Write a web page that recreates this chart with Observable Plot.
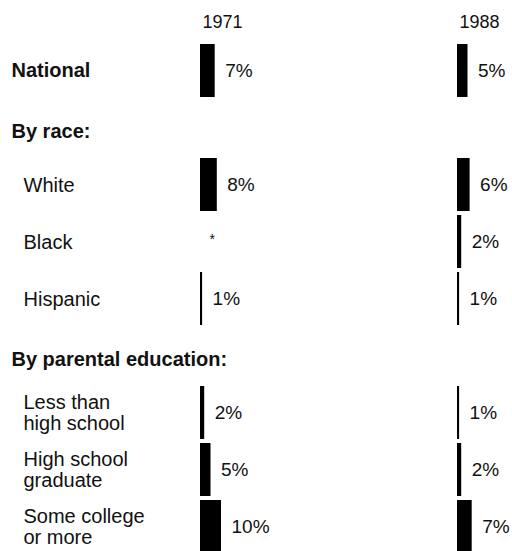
<!DOCTYPE html>
<html>
<head>
<meta charset="utf-8">
<script src="https://cdn.jsdelivr.net/npm/d3@7"></script>
<script src="https://cdn.jsdelivr.net/npm/@observablehq/plot@0.6"></script>
<style>
  html, body { margin: 0; padding: 0; background: #fff; }
  #chart svg { display: block; }
</style>
</head>
<body>
<div id="chart"></div>
<script>
// Data
const rows = ["National", "By race:", "White", "Black", "Hispanic", "By parental education:",
  "Less than\nhigh school", "High school\ngraduate", "Some college\nor more"];
const rowKinds = ["main", "header", "sub", "sub", "sub", "header", "sub", "sub", "sub"];
const years = ["1971", "1988"];
const values1971 = [7, null, 8, null, 1, null, 2, 5, 10];
const values1988 = [5, null, 6, 2, 1, null, 1, 2, 7];

const rowTable = rows.map((r, i) => ({row: r, kind: rowKinds[i]}));
const cells = [];
years.forEach((yr, j) => {
  const vals = j === 0 ? values1971 : values1988;
  rows.forEach((r, i) => {
    if (rowKinds[i] === "header") return;
    cells.push({year: yr, row: r, value: vals[i]});
  });
});
const present = cells.filter(d => d.value != null);
const missing = cells.filter(d => d.value == null);

const font = "'Liberation Sans', Arial, Helvetica, sans-serif";

const chart = Plot.plot({
  width: 512,
  height: 551,
  marginTop: 0, marginRight: 0, marginBottom: 0, marginLeft: 0,
  style: {fontFamily: font, background: "#fff", color: "#111"},
  fx: {domain: years, range: [200, 714], padding: 0, axis: null},
  x: {domain: [0, 10], range: [0, 21], axis: null},
  y: {domain: rows, range: [42.5, 555.5], paddingInner: 0.07, paddingOuter: 0.035, axis: null},
  marks: [
    // year headings
    Plot.text(years, {fx: d => d, text: d => d, frameAnchor: "top-left", textAnchor: "start",
      lineAnchor: "middle", dx: 2, dy: 22, fontSize: 18, fill: "#111"}),
    // bars
    Plot.barX(present, {fx: "year", y: "row", x: "value", fill: "#000"}),
    // percent labels
    Plot.text(present, {fx: "year", y: "row", x: "value", text: d => d.value + "%",
      textAnchor: "start", dx: 10, fontSize: 19, fill: "#111"}),
    // not available marker
    Plot.text(missing, {fx: "year", y: "row", x: 0, text: () => "*",
      textAnchor: "start", dx: 9, dy: -2, fontSize: 14, fill: "#111"}),
    // row labels (left column)
    Plot.text(rowTable.filter(d => d.kind === "header"), {fx: () => "1971", y: "row", text: "row",
      frameAnchor: "left", textAnchor: "start", dx: -189, dy: 4,
      fontSize: 20, fontWeight: "bold", fill: "#111"}),
    Plot.text(rowTable.filter(d => d.kind === "main"), {fx: () => "1971", y: "row", text: "row",
      frameAnchor: "left", textAnchor: "start", dx: -189,
      fontSize: 20, fontWeight: "bold", fill: "#111"}),
    Plot.text(rowTable.filter(d => d.kind === "sub"), {fx: () => "1971", y: "row", text: "row",
      frameAnchor: "left", textAnchor: "start", dx: -177, fontSize: 20, lineHeight: 1.05, fill: "#111"})
  ]
});
document.getElementById("chart").appendChild(chart);
</script>
</body>
</html>
